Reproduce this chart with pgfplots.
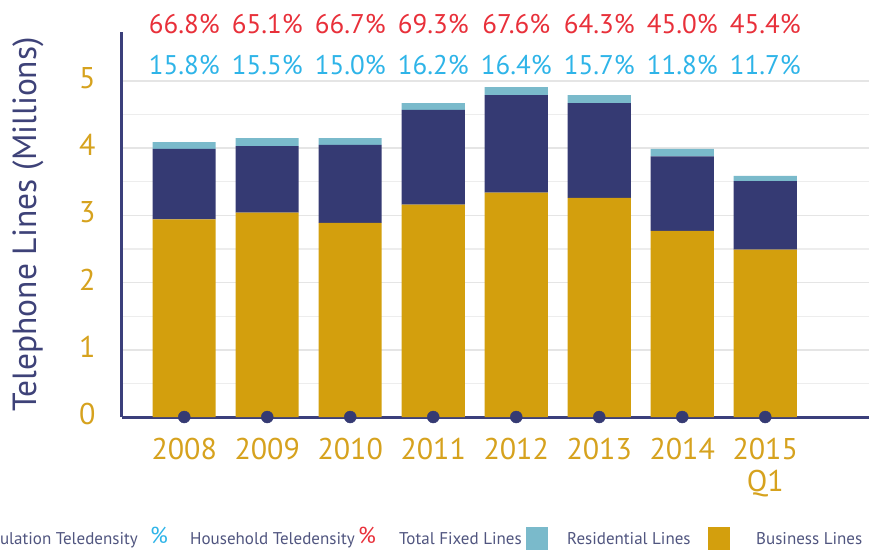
\documentclass[border=0pt]{standalone}
\usepackage{pgfplots}
\pgfplotsset{compat=1.18}
\usepackage{fontspec}
\setmainfont{PT Sans}
\definecolor{bgold}{HTML}{D39F0D}
\definecolor{bnavy}{HTML}{353A73}
\definecolor{blight}{HTML}{7ABACB}
\definecolor{axnavy}{HTML}{3B3F7B}
\definecolor{tgold}{HTML}{D6A21E}
\definecolor{pred}{HTML}{E8303A}
\definecolor{pcyan}{HTML}{2EB4E8}
\definecolor{ylab}{HTML}{3E4278}
\definecolor{legtext}{HTML}{50557F}
\begin{document}
\begin{tikzpicture}
\pgfplotsset{base/.style={scale only axis, width=747pt, height=385pt,
  xmin=-0.75, xmax=8.25, ymin=0, ymax=5.73, clip=false}}
\begin{axis}[base, ybar stacked, bar width=63pt,
  axis lines=left,
  axis line style={-, draw=axnavy, line width=3pt},
  xtick={0,...,7},
  xticklabels={2008,2009,2010,2011,2012,2013,2014,{2015\\Q1}},
  xticklabel style={align=center, text=tgold, font=\fontsize{30}{32}\selectfont, yshift=-18pt},
  ytick={0,...,5},
  minor ytick={0.5,1.5,2.5,3.5,4.5},
  major tick length=0pt, minor tick length=0pt,
  ymajorgrids, yminorgrids,
  major grid style={draw=black!10, line width=1.5pt},
  minor grid style={draw=black!7, line width=1.2pt},
  yticklabel style={text=tgold, font=\fontsize{30}{30}\selectfont, xshift=-23pt, yshift=3pt},
  /pgf/number format/assume math mode=true,
  ylabel={Telephone Lines (Millions)},
  every axis y label/.style={at={(axis description cs:-0.126,0.5)}, rotate=90, anchor=center,
    text=ylab, font=\fontsize{33.5}{33.5}\selectfont},
]
\addplot[fill=bgold, draw=none] coordinates {(0,2.94) (1,3.04) (2,2.89) (3,3.16) (4,3.34) (5,3.26) (6,2.77) (7,2.49)};
\addplot[fill=bnavy, draw=none] coordinates {(0,1.05) (1,0.99) (2,1.16) (3,1.41) (4,1.45) (5,1.41) (6,1.11) (7,1.02)};
\addplot[fill=blight, draw=none] coordinates {(0,0.10) (1,0.12) (2,0.10) (3,0.10) (4,0.12) (5,0.12) (6,0.11) (7,0.08)};
\foreach \i/\r/\c in {0/66.8/15.8,1/65.1/15.5,2/66.7/15.0,3/69.3/16.2,4/67.6/16.4,5/64.3/15.7,6/45.0/11.8,7/45.4/11.7}{
  \edef\tmp{\noexpand\node[text=pred, font=\noexpand\fontsize{27}{27}\noexpand\selectfont] at (axis cs:\i,5.85) {\r\noexpand\%};
    \noexpand\node[text=pcyan, font=\noexpand\fontsize{27}{27}\noexpand\selectfont] at (axis cs:\i,5.24) {\c\noexpand\%};}
  \tmp
}
\end{axis}
\begin{axis}[base, hide axis]
\addplot[only marks, mark=*, mark size=6pt, color=bnavy] coordinates {(0,0) (1,0) (2,0) (3,0) (4,0) (5,0) (6,0) (7,0)};
\end{axis}
\begin{scope}[every node/.style={font=\fontsize{17}{17}\selectfont, text=legtext, inner sep=0pt}]
\node[anchor=base east] at (16pt,-127pt) {Population Teledensity};
\node[anchor=base west, text=pcyan, font=\fontsize{23}{23}\selectfont] at (28pt,-126pt) {\%};
\node[anchor=base west] at (68pt,-127pt) {Household Teledensity};
\node[anchor=base west, text=pred, font=\fontsize{23}{23}\selectfont] at (236pt,-126pt) {\%};
\node[anchor=base west] at (277pt,-127pt) {Total Fixed Lines};
\fill[blight] (404pt,-134pt) rectangle (426pt,-110pt);
\node[anchor=base west] at (445pt,-127pt) {Residential Lines};
\fill[bgold] (586pt,-134pt) rectangle (608pt,-110pt);
\node[anchor=base west] at (634pt,-127pt) {Business Lines};
\fill[bnavy] (760pt,-134pt) rectangle (782pt,-110pt);
\end{scope}
\pgfresetboundingbox
\path[use as bounding box] (-122pt,-132pt) rectangle (747pt,417pt);
\end{tikzpicture}
\end{document}
